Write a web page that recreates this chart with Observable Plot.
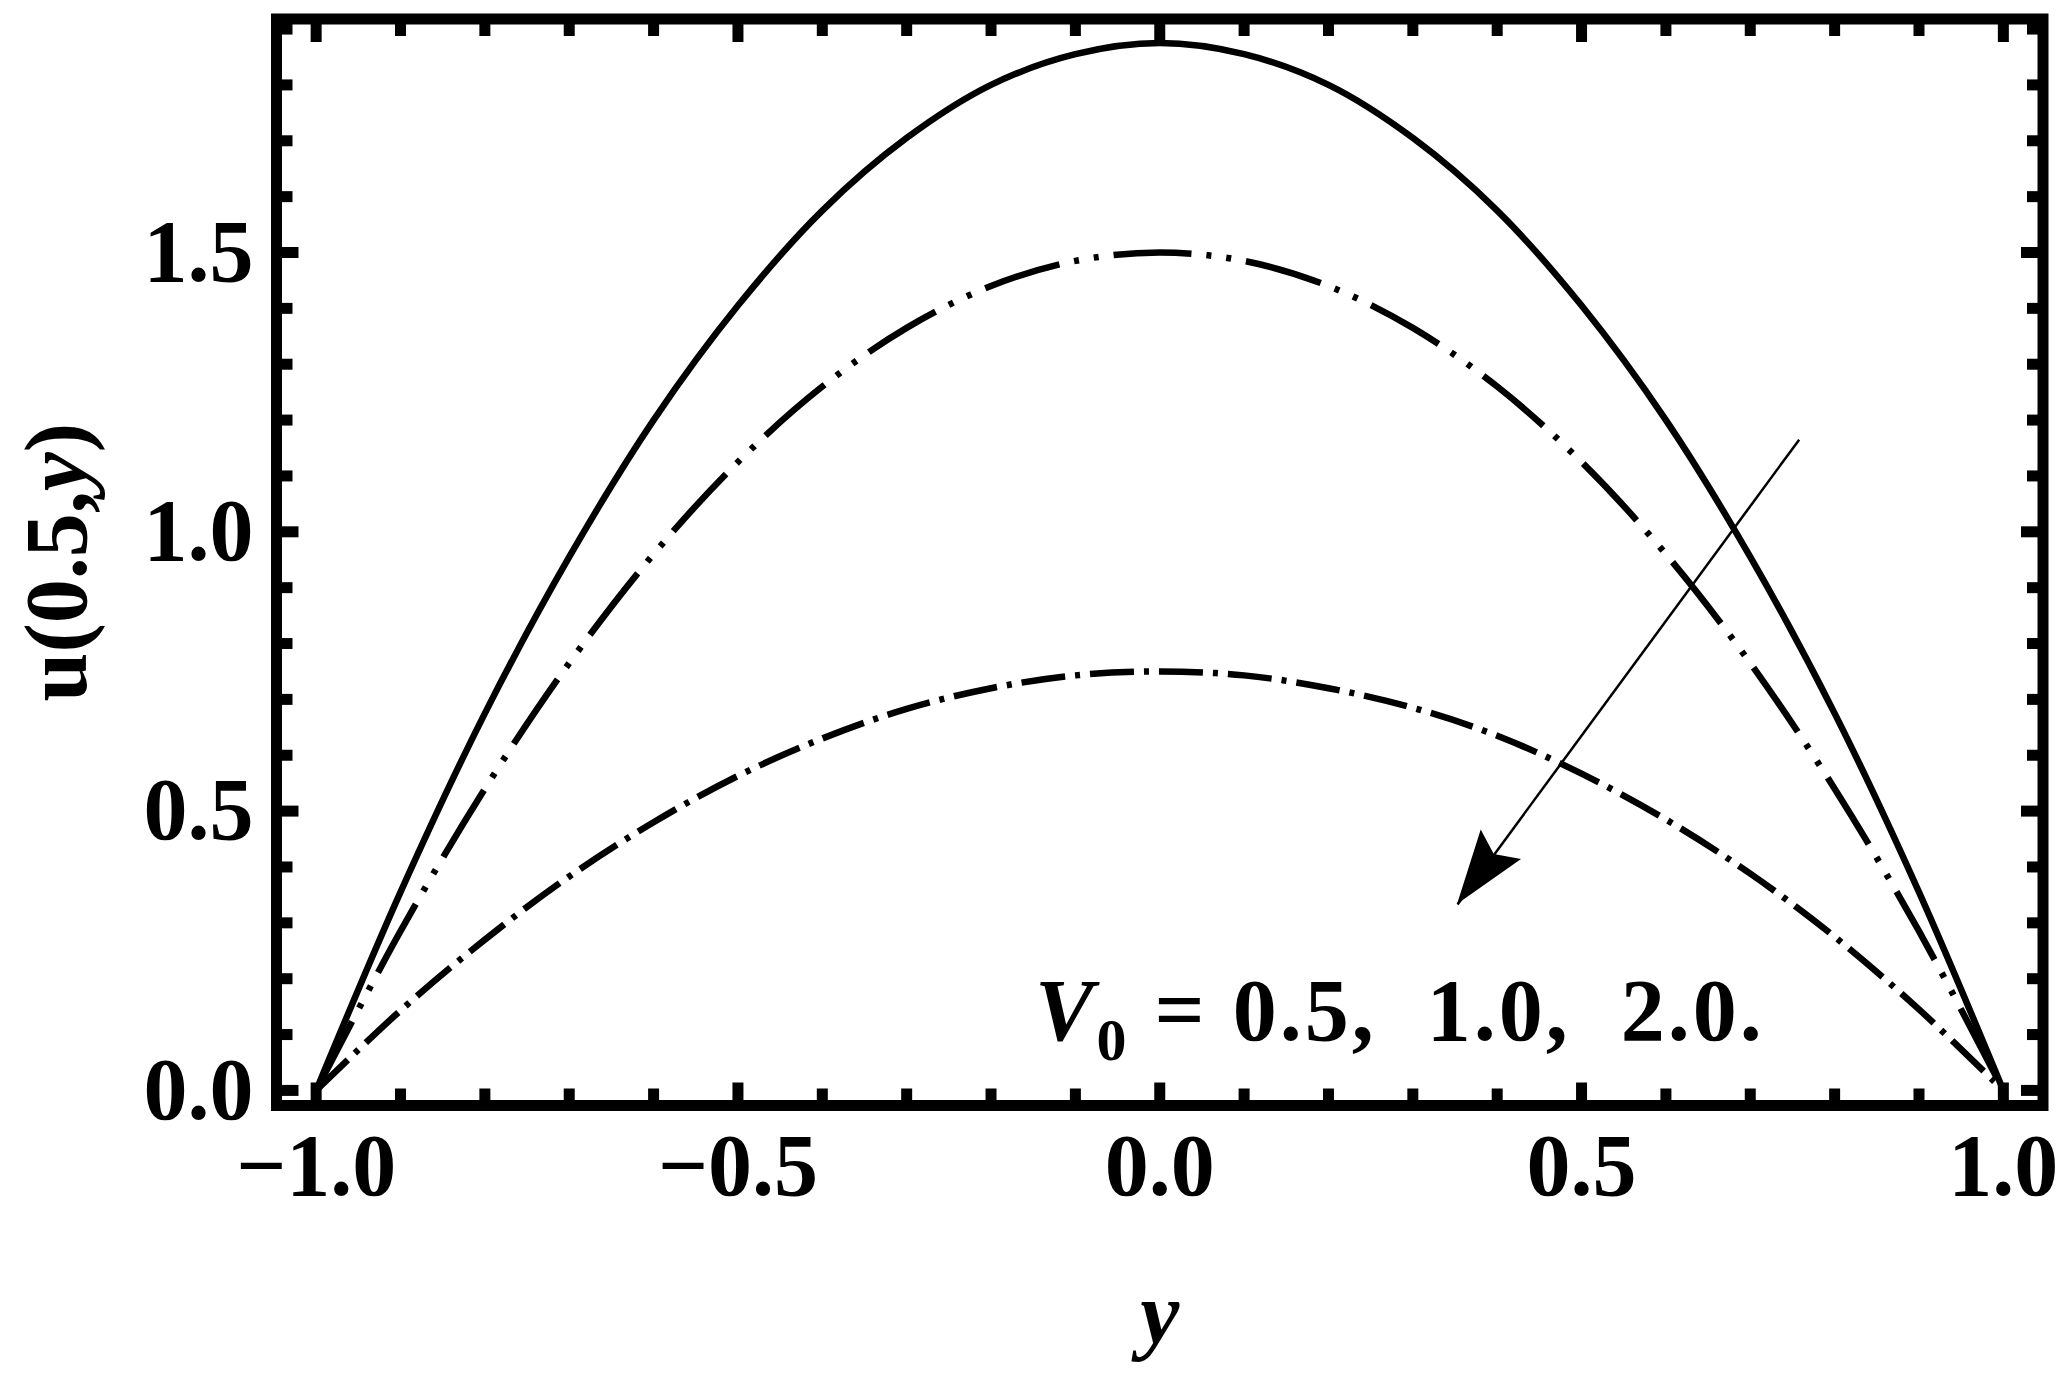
<!DOCTYPE html>
<html>
<head>
<meta charset="utf-8">
<script src="https://cdn.jsdelivr.net/npm/d3@7"></script>
<script src="https://cdn.jsdelivr.net/npm/@observablehq/plot@0.6"></script>
<style>
  html, body { margin: 0; padding: 0; background: #ffffff; }
  #chart { width: 2067px; height: 1378px; }
</style>
</head>
<body>
<div id="chart"></div>
<script>
// ---- data ----
const yPos   = [-1.0, -0.9, -0.8, -0.7, -0.6, -0.5, -0.4, -0.3, -0.2, -0.1, 0.0, 0.1, 0.2, 0.3, 0.4, 0.5, 0.6, 0.7, 0.8, 0.9, 1.0];
const uV05   = [0.000, 0.355, 0.675, 0.955, 1.200, 1.405, 1.575, 1.705, 1.800, 1.855, 1.875, 1.855, 1.800, 1.705, 1.575, 1.405, 1.200, 0.955, 0.675, 0.355, 0.000];
const uV10   = [0.000, 0.285, 0.540, 0.765, 0.960, 1.125, 1.260, 1.365, 1.440, 1.485, 1.500, 1.485, 1.440, 1.365, 1.260, 1.125, 0.960, 0.765, 0.540, 0.285, 0.000];
const uV20   = [0.000, 0.143, 0.270, 0.383, 0.480, 0.563, 0.630, 0.683, 0.720, 0.743, 0.750, 0.743, 0.720, 0.685, 0.635, 0.567, 0.485, 0.388, 0.275, 0.145, 0.000];
const seriesNames = ["V0 = 0.5", "V0 = 1.0", "V0 = 2.0"];

const xMajorTicks = [-1.0, -0.5, 0.0, 0.5, 1.0];
const xTickLabels = ["\u22121.0", "\u22120.5", "0.0", "0.5", "1.0"];
const xMinorTicks = [-0.9, -0.8, -0.7, -0.6, -0.4, -0.3, -0.2, -0.1, 0.1, 0.2, 0.3, 0.4, 0.6, 0.7, 0.8, 0.9];
const yMajorTicks = [0.0, 0.5, 1.0, 1.5];
const yTickLabels = ["0.0", "0.5", "1.0", "1.5"];
const yMinorTicks = [0.1, 0.2, 0.3, 0.4, 0.6, 0.7, 0.8, 0.9, 1.1, 1.2, 1.3, 1.4, 1.6, 1.7, 1.8, 1.9];

const xAxisLabel = "y";
const yAxisLabelParts = ["u(0.5,", "y", ")"];
const noteParts = ["V", "0", "\u00a0=\u00a00.5,\u00a0\u00a01.0,\u00a0\u00a02.0."];
const notePos = [{x: -0.148, u: 0.14}];
const arrowSeg = [{x1: 0.758, u1: 1.165, x2: 0.353, u2: 0.333}];

// ---- tables ----
const rows = (vals, name) => yPos.map((y, i) => ({y, u: vals[i], series: name}));
const s05 = rows(uV05, seriesNames[0]);
const s10 = rows(uV10, seriesNames[1]);
const s20 = rows(uV20, seriesNames[2]);

const FONT = 88;
const lineBase = {x: "y", y: "u", stroke: "#000", strokeWidth: 6.5, curve: "catmull-rom", strokeLinecap: "butt", strokeLinejoin: "round"};
const tickBase = {strokeWidth: 11, stroke: "#000", fill: "none", label: null, tickFormat: () => ""};

const chart = Plot.plot({
  width: 2067,
  height: 1378,
  marginLeft: 276,
  marginRight: 24.5,
  marginTop: 18.5,
  marginBottom: 273,
  style: {background: "#ffffff", fontFamily: "'Liberation Serif', 'Times New Roman', serif", fontWeight: "bold", fontSize: FONT + "px", color: "#000", overflow: "visible"},
  x: {domain: [-1.047, 1.047]},
  y: {domain: [-0.027, 1.918]},
  marks: [
    Plot.line(s05, {...lineBase}),
    Plot.line(s10, {...lineBase, strokeDasharray: "78,15,5,15,5,15"}),
    Plot.line(s20, {...lineBase, strokeDasharray: "44,10,5,10"}),
    Plot.link(arrowSeg, {x1: "x1", y1: "u1", x2: "x2", y2: "u2", stroke: "#000", strokeWidth: 2.5, ariaDescription: "arrow"}),
    // inward frame ticks on all four sides
    Plot.axisX(xMajorTicks, {...tickBase, anchor: "bottom", tickSize: -22.5}),
    Plot.axisX(xMinorTicks, {...tickBase, anchor: "bottom", tickSize: -16.5}),
    Plot.axisX(xMajorTicks, {...tickBase, anchor: "top", tickSize: -22.5}),
    Plot.axisX(xMinorTicks, {...tickBase, anchor: "top", tickSize: -16.5}),
    Plot.axisY(yMajorTicks, {...tickBase, anchor: "left", tickSize: -22.5}),
    Plot.axisY(yMinorTicks, {...tickBase, anchor: "left", tickSize: -16.5}),
    Plot.axisY(yMajorTicks, {...tickBase, anchor: "right", tickSize: -22.5}),
    Plot.axisY(yMinorTicks, {...tickBase, anchor: "right", tickSize: -16.5}),
    // tick labels
    Plot.axisX(xMajorTicks, {anchor: "bottom", tickSize: 0, tickPadding: 27, fontSize: FONT, label: null,
      tickFormat: d => xTickLabels[xMajorTicks.indexOf(d)]}),
    Plot.axisY(yMajorTicks, {anchor: "left", tickSize: 0, tickPadding: 23, fontSize: FONT, label: null,
      tickFormat: d => yTickLabels[yMajorTicks.indexOf(d)]}),
    Plot.frame({stroke: "#000", strokeWidth: 11}),
    // axis titles
    Plot.text([xAxisLabel], {text: d => d, frameAnchor: "bottom", dy: 209, lineAnchor: "middle", textAnchor: "middle", fontSize: FONT, fontStyle: "italic"}),
    Plot.text([yAxisLabelParts.join("")], {text: d => d, frameAnchor: "left", dx: -219, rotate: -90, lineAnchor: "middle", textAnchor: "middle", fontSize: FONT, ariaDescription: "ylabel"}),
    // annotation
    Plot.text(notePos, {x: "x", y: "u", text: () => noteParts.join(""), textAnchor: "start", lineAnchor: "middle", fontSize: FONT, ariaDescription: "v0-note"})
  ]
});

document.getElementById("chart").appendChild(chart);

// ---- rich text (italic / subscript) ----
const svg = d3.select(chart.tagName.toLowerCase() === "svg" ? chart : chart.querySelector("svg"));
function findText(desc, content) {
  let sel = svg.select(`g[aria-description="${desc}"] text`);
  if (sel.empty()) {
    sel = svg.selectAll("text").filter(function () { return this.textContent === content; });
  }
  return sel;
}
const note = findText("v0-note", noteParts.join(""));
if (!note.empty()) {
  note.text(null).attr("letter-spacing", 3);
  note.append("tspan").attr("font-style", "italic").text(noteParts[0]);
  note.append("tspan").attr("font-size", 60).attr("dy", 20).text(noteParts[1]);
  note.append("tspan").attr("dy", -20).text(noteParts[2]);
}
const yl = findText("ylabel", yAxisLabelParts.join(""));
if (!yl.empty()) {
  yl.text(null);
  yl.append("tspan").text(yAxisLabelParts[0]);
  yl.append("tspan").attr("font-style", "italic").text(yAxisLabelParts[1]);
  yl.append("tspan").text(yAxisLabelParts[2]);
}

// ---- filled arrow head, positioned through the plot's scales ----
const sx = chart.scale("x"), sy = chart.scale("y");
const fx = sx.apply ? (v => sx.apply(v)) : d3.scaleLinear(sx.domain, sx.range);
const fy = sy.apply ? (v => sy.apply(v)) : d3.scaleLinear(sy.domain, sy.range);
const a = arrowSeg[0];
const sxp = fx(a.x1), syp = fy(a.u1), tx = fx(a.x2), ty = fy(a.u2);
const len = Math.hypot(tx - sxp, ty - syp);
const ux = (tx - sxp) / len, uy = (ty - syp) / len;
const nx = -uy, ny = ux;
const L = 74, W = 25, notch = 62;
const pts = [
  [tx, ty],
  [tx - L * ux + W * nx, ty - L * uy + W * ny],
  [tx - notch * ux, ty - notch * uy],
  [tx - L * ux - W * nx, ty - L * uy - W * ny]
];
svg.append("polygon").attr("points", pts.map(p => p.join(",")).join(" ")).attr("fill", "#000");
</script>
</body>
</html>
